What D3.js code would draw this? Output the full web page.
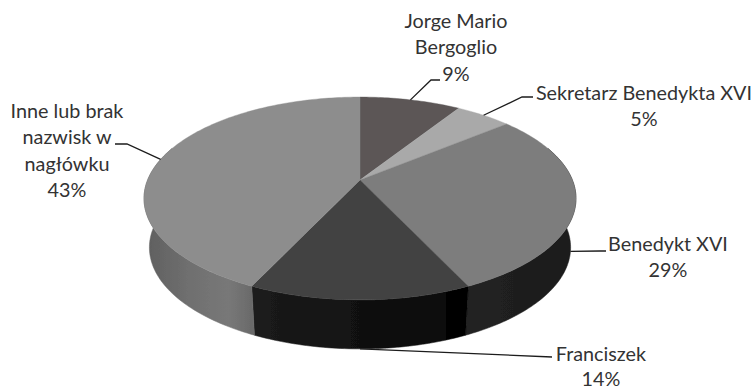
<!DOCTYPE html>
<html><head><meta charset="utf-8">
<script src="https://cdnjs.cloudflare.com/ajax/libs/d3/7.8.5/d3.min.js"></script>
<style>html,body{margin:0;padding:0;background:#fff}svg{display:block}text{font-family:Lato,"Open Sans",sans-serif;font-size:19.8px;fill:#333}</style>
</head><body>
<script>
const categories = ["Jorge Mario Bergoglio","Sekretarz Benedykta XVI","Benedykt XVI","Franciszek","Inne lub brak nazwisk w nagłówku"];
const values = [9,5,29,14,43];
const labelLines = [["Jorge Mario","Bergoglio"],["Sekretarz Benedykta XVI"],["Benedykt XVI"],["Franciszek"],["Inne lub brak","nazwisk w","nagłówku"]];
const topColors = ["#5b5757","#a9a9a9","#7d7d7d","#434343","#8d8d8d"];

const W=753,H=390;
const svg=d3.select("body").append("svg").attr("width",W).attr("height",H);
const defs=svg.append("defs");
defs.append("filter").attr("id","soft").append("feGaussianBlur").attr("stdDeviation",0.55);
function grad(id,x1,x2,stops){
  const g=defs.append("linearGradient").attr("id",id).attr("gradientUnits","userSpaceOnUse").attr("x1",x1).attr("x2",x2).attr("y1",0).attr("y2",0);
  stops.forEach(s=>g.append("stop").attr("offset",s[0]).attr("stop-color",s[1]));
}
grad("w4",145,252,[[0,"#5f5f5f"],[0.4,"#6f6f6f"],[0.78,"#787878"],[1,"#6a6a6a"]]);
grad("w3",250,470,[[0,"#1c1c1c"],[0.35,"#141414"],[0.6,"#0f0f0f"],[0.89,"#0c0c0c"],[0.895,"#020202"],[1,"#000"]]);
grad("w2",468,578,[[0,"#222"],[1,"#1b1b1b"]]);

// perspective projection of the pie disc
const cx=360,cy=180,k=212.4,c=0.182,b=-65.3,depth=49,shrink=0.975;
const rimTop=a=>{const d=1+c*Math.cos(a);return [cx+k*Math.sin(a)/d,(cy+b*Math.cos(a))/d];};
const rimLow=a=>{const p=rimTop(a);return [cx+(p[0]-cx)*shrink,p[1]+depth];};
const rad=d=>d*Math.PI/180;
const samples=(a0,a1)=>{const n=Math.max(2,Math.ceil((a1-a0)/rad(1)));return d3.range(n+1).map(i=>a0+(a1-a0)*i/n);};
const line=d3.line();

const arcs=d3.pie().sort(null).startAngle(0).endAngle(2*Math.PI)(values);
const chart=svg.append("g").attr("filter","url(#soft)");

// side wall
const frontA=rad(70),frontB=rad(290);
arcs.forEach((d,i)=>{
  const a0=Math.max(d.startAngle,frontA),a1=Math.min(d.endAngle,frontB);
  if(a1<=a0) return;
  const s=samples(a0,a1);
  chart.append("path").attr("d",line(s.map(rimTop).concat(s.slice().reverse().map(rimLow)))+"Z")
    .attr("fill",`url(#w${i})`).attr("stroke",`url(#w${i})`).attr("stroke-width",0.5);
});
// top face
arcs.forEach((d,i)=>{
  const pts=[[cx,cy]].concat(samples(d.startAngle,d.endAngle).map(rimTop));
  chart.append("path").attr("d",line(pts)+"Z").attr("fill",topColors[i]).attr("stroke",topColors[i]).attr("stroke-width",0.4);
});

// leaders and labels
const layout=[
 {x:456,y:28,lh:26.4,elbow:[[431,80],[440,80]],wall:false},
 {x:644,y:100,lh:26,elbow:[[522,97],[533,97]],wall:false},
 {x:668,y:251,lh:26,elbow:[[600,251],[606,251]],wall:true},
 {x:601,y:361,lh:24.5,elbow:[[552,357]],wall:true},
 {x:67,y:118,lh:26.4,elbow:[[127,144],[115,144]],wall:false}
];
arcs.forEach((d,i)=>{
  const m=(d.startAngle+d.endAngle)/2,l=layout[i];
  const start=(l.wall?rimLow:rimTop)(m);
  svg.append("path").attr("d",line([start,...l.elbow])).attr("fill","none").attr("stroke","#1c1c1c").attr("stroke-width",1.3);
  const t=svg.append("text").attr("text-anchor","middle");
  labelLines[i].concat([values[i]+"%"]).forEach((s,j)=>t.append("tspan").attr("x",l.x).attr("y",l.y+j*l.lh).text(s));
});
</script>
</body></html>
